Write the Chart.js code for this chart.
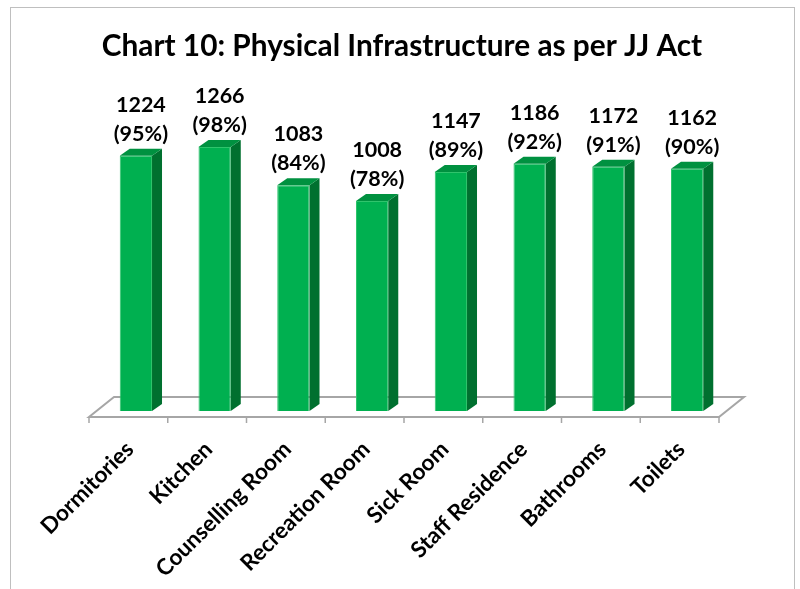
<!DOCTYPE html>
<html>
<head>
<meta charset="utf-8">
<script src="https://cdn.jsdelivr.net/npm/chart.js@4.4.1/dist/chart.umd.min.js"></script>
<style>
  html, body { margin: 0; padding: 0; background: #fff; }
  #wrap { width: 800px; height: 589px; }
</style>
</head>
<body>
<div id="wrap"><canvas id="chart-jj" width="800" height="589"></canvas></div>
<script>
// datos del gráfico
const categorias = ["Dormitories", "Kitchen", "Counselling Room", "Recreation Room",
                    "Sick Room", "Staff Residence", "Bathrooms", "Toilets"];
const cantidades = [1224, 1266, 1083, 1008, 1147, 1186, 1172, 1162];
const porcentajes = [95, 98, 84, 78, 89, 92, 91, 90];
const yMax = 1400;

// 3D look (Excel style): offsets of the floor and of each bar
const FRONT = { x: -7.5, y: 6 };
const BACK = { x: 17.5, y: -14 };
const DEPTH = { x: 10, y: -7 };

const marco = {
    id: 'marco',
    beforeDraw(chart) {
        const ctx = chart.ctx;
        ctx.save();
        ctx.fillStyle = '#ffffff';
        ctx.fillRect(0, 0, chart.width, chart.height);
        ctx.strokeStyle = '#bfbfbf';
        ctx.lineWidth = 1;
        ctx.strokeRect(10.5, 7.5, 784, 620);
        ctx.restore();
    }
};

const piso = {
    id: 'piso',
    beforeDatasetsDraw(chart) {
        const ctx = chart.ctx;
        const a = chart.chartArea;
        const xs = chart.scales.x;
        ctx.save();
        ctx.strokeStyle = '#a6a6a6';
        ctx.lineWidth = 2;
        ctx.fillStyle = '#ffffff';
        ctx.beginPath();
        ctx.moveTo(a.left + FRONT.x, a.bottom + FRONT.y);
        ctx.lineTo(a.right + FRONT.x, a.bottom + FRONT.y);
        ctx.lineTo(a.right + BACK.x, a.bottom + BACK.y);
        ctx.lineTo(a.left + BACK.x, a.bottom + BACK.y);
        ctx.closePath();
        ctx.fill();
        ctx.stroke();

        // marcas del eje en los limites de categoria
        const paso = xs.getPixelForValue(1) - xs.getPixelForValue(0);
        ctx.lineWidth = 1.5;
        for (let i = 0; i <= categorias.length; i++) {
            const x = xs.getPixelForValue(0) - paso / 2 + i * paso + FRONT.x;
            ctx.beginPath();
            ctx.moveTo(x, a.bottom + FRONT.y);
            ctx.lineTo(x, a.bottom + FRONT.y + 6);
            ctx.stroke();
        }
        ctx.restore();
    }
};

const barras3d = {
    id: 'barras3d',
    afterDatasetsDraw(chart) {
        const ctx = chart.ctx;
        const meta = chart.getDatasetMeta(0);
        ctx.save();
        meta.data.forEach((bar, i) => {
            const l = bar.x - bar.width / 2;
            const r = bar.x + bar.width / 2;
            const t = bar.y;
            const b = bar.base;
            // cara lateral
            ctx.fillStyle = '#00702f';
            ctx.beginPath();
            ctx.moveTo(r, t);
            ctx.lineTo(r + DEPTH.x, t + DEPTH.y);
            ctx.lineTo(r + DEPTH.x, b + DEPTH.y);
            ctx.lineTo(r, b);
            ctx.closePath();
            ctx.fill();
            // cara superior
            ctx.fillStyle = '#009140';
            ctx.beginPath();
            ctx.moveTo(l, t);
            ctx.lineTo(l + DEPTH.x, t + DEPTH.y);
            ctx.lineTo(r + DEPTH.x, t + DEPTH.y);
            ctx.lineTo(r, t);
            ctx.closePath();
            ctx.fill();

            // etiquetas de datos
            const cx = bar.x + DEPTH.x / 2;
            const base2 = t + DEPTH.y - 8;
            ctx.fillStyle = '#000000';
            ctx.font = 'bold 21.5px Lato';
            ctx.textAlign = 'center';
            ctx.textBaseline = 'alphabetic';
            ctx.fillText('(' + porcentajes[i] + '%)', cx, base2);
            ctx.fillText(String(cantidades[i]), cx, base2 - 29);
        });
        ctx.restore();
    }
};

new Chart(document.getElementById('chart-jj'), {
    type: 'bar',
    data: {
        labels: categorias,
        datasets: [{
            label: 'Physical Infrastructure',
            data: cantidades,
            backgroundColor: '#00b050',
            borderColor: '#2fc46c',
            borderWidth: 1,
            categoryPercentage: 1,
            barPercentage: 0.41
        }]
    },
    options: {
        responsive: false,
        animation: false,
        layout: { padding: { left: 77.5, right: 73.5, top: 0, bottom: 0 } },
        plugins: {
            legend: { display: false },
            tooltip: { enabled: false },
            title: {
                display: true,
                text: 'Chart 10: Physical Infrastructure as per JJ Act',
                color: '#000000',
                font: { family: 'Lato', size: 29.8, weight: 'bold', lineHeight: 1.2 },
                padding: { top: 29, bottom: 54.4 }
            }
        },
        scales: {
            x: {
                grid: { display: false },
                border: { display: false },
                ticks: {
                    color: '#000000',
                    font: { family: 'Lato', size: 22.5, weight: 'bold' },
                    minRotation: 45,
                    maxRotation: 45,
                    padding: 17,
                    labelOffset: -6
                },
                afterFit(scale) { scale.height = 178; }
            },
            y: {
                min: 0,
                max: yMax,
                grid: { display: false },
                border: { display: false },
                ticks: { display: false },
                afterFit(scale) { scale.width = 19; }
            }
        }
    },
    plugins: [marco, piso, barras3d]
});
</script>
</body>
</html>
